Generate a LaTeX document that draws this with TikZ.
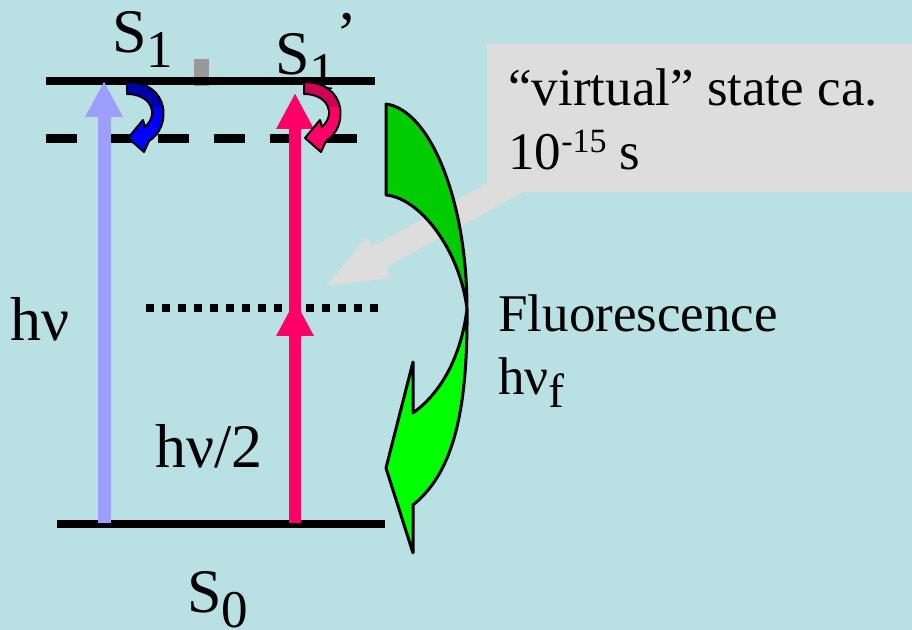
\documentclass[tikz,border=0pt]{standalone}
\usepackage{fontspec}
\setmainfont{Liberation Serif}
\usetikzlibrary{arrows.meta,positioning}
\definecolor{bgblue}{RGB}{185,224,227}
\definecolor{callgray}{RGB}{221,221,221}
\definecolor{markgray}{RGB}{153,153,153}
\definecolor{lavender}{RGB}{158,158,255}
\definecolor{hotpink}{RGB}{255,0,102}
\definecolor{darkpink}{RGB}{204,0,85}
\definecolor{darkblue}{RGB}{0,0,170}
\definecolor{brightblue}{RGB}{0,0,255}
\definecolor{darkgreen}{RGB}{0,204,0}
\definecolor{brightgreen}{RGB}{0,255,0}
\tikzset{
	level/.style={line width=4pt},
	excited/.style={line width=4.5pt, dash pattern=on 15.5pt off 12.5pt},
	virtuallevel/.style={line width=4pt, dash pattern=on 4pt off 4pt},
	absorb/.style={line width=6.5pt, lavender, -{Triangle[width=17.5pt,length=18pt]}},
	pump/.style={line width=6pt, hotpink, -{Triangle[width=17.5pt,length=18pt]}},
	lbl/.style={inner sep=0pt, anchor=base west, font=\fontsize{31}{36}\selectfont},
	txt/.style={inner sep=0pt, anchor=base west, font=\fontsize{26.5}{32}\selectfont},
	outline/.style={draw=black, line width=1.5pt, line join=round}
}
% small curled arrow (relaxation), local pixel coordinates
\newcommand{\curlshape}{(0,0) -- (0,12) .. controls (23,12) and (33,31) .. (18,45)
	-- (16,38) -- (1,56) -- (17,70) -- (22,59) .. controls (45,45) and (43,0) .. (0,0) -- cycle}
\newcommand{\curlarrow}[3]{%
	\begin{scope}[shift={(#1)}]
		\fill[#3] \curlshape;
		\begin{scope}
			\clip \curlshape;
			\fill[#2] (-5,-5) rectangle (50,25);
		\end{scope}
		\draw[black, line width=1pt, line join=round] \curlshape;
	\end{scope}}
\newcommand{\lowsub}[1]{\raisebox{-7.5pt}{\fontsize{26.5}{26.5}\selectfont #1}}

\begin{document}
\begin{tikzpicture}[x=0.5pt, y=-0.5pt]
	\fill[bgblue] (0,0) rectangle (912,630);
	\useasboundingbox (0,0) rectangle (912,630);

	% callout
	\fill[callgray] (487,44) -- (912,44) -- (912,192) -- (523,192) -- (386,267) -- (390,278)
		-- (326,286) -- (367,237) -- (372,247) -- (487,183) -- cycle;
	\node[txt] (virt) at (508,106) {“virtual” state ca.};
	\node[txt] (life) at (508,170) {10\raisebox{8.5pt}{\fontsize{17}{17}\selectfont -15} s};

	% labels
	\node[lbl] (S1) at (112,53) {S\lowsub{1}};
	\node[lbl] (S1p) at (275,75) {S\lowsub{1}\raisebox{10pt}{’}};
	\node[lbl] (S0) at (187,613) {S\lowsub{0}};
	\node[lbl] (hnu) at (10,341) {hν};
	\node[lbl] (hnuhalf) at (155,468) {hν/2};
	\node[txt] (fluo) at (498,332) {Fluorescence};
	\node[txt] (hnuf) at (498,395) {hν\raisebox{-6.5pt}{\fontsize{24}{24}\selectfont f}};

	% levels
	\coordinate (s1L) at (46,81);   \coordinate (s1R) at (375,81);
	\coordinate (vibL) at (46,139); \coordinate (vibR) at (357,139);
	\coordinate (virL) at (146,308); \coordinate (virR) at (378,308);
	\coordinate (s0L) at (57,524);  \coordinate (s0R) at (385,524);
	\fill[markgray] (194,59) rectangle (209,86);
	\draw[level] (s1L) -- (s1R);
	\draw[excited] (vibL) -- (vibR);
	\draw[virtuallevel] (virL) -- (virR);
	\draw[level] (s0L) -- (s0R);

	% excitation
	\coordinate (lavB) at (104,523);  \coordinate (lavT) at (104,81);
	\coordinate (pinkB) at (295,523); \coordinate (pinkM) at (295,300);
	\coordinate (pinkT) at (295,93);
	\draw[absorb] (lavB) -- (lavT);
	\draw[pump] (pinkB) -- (pinkT);
	\draw[pump] (pinkB) -- (pinkM);

	% relaxation
	\curlarrow{127,82}{darkblue}{brightblue}
	\curlarrow{304,82}{darkpink}{hotpink}

	% fluorescence
	\path[fill=darkgreen, outline] (386,104) .. controls (430,110) and (467,200) .. (467,309)
		.. controls (460,250) and (420,198) .. (386,195) -- cycle;
	\path[fill=brightgreen, outline] (467,309) .. controls (468,420) and (450,475) .. (413,505)
		-- (413,553) -- (386,468) -- (413,362) -- (413,413)
		.. controls (445,390) and (462,350) .. (467,309) -- cycle;
\end{tikzpicture}
\end{document}
